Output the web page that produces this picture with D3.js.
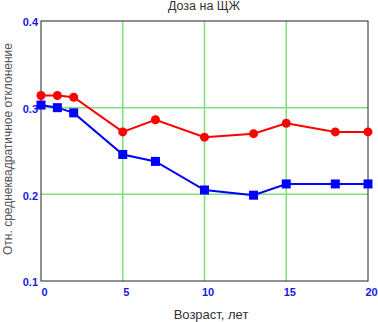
<!DOCTYPE html>
<head>
  <meta charset="utf-8">
  <script src="https://cdnjs.cloudflare.com/ajax/libs/d3/7.8.5/d3.min.js"></script>
  <style>
    body { margin:0; background:#fff; }
    svg { display:block; }
  </style>
</head>
<body>
  <div id="vis"></div>
  <script>
    var ages = [0, 1, 2, 5, 7, 10, 13, 15, 18, 20];
    var redValues = [0.314, 0.314, 0.312, 0.272, 0.286, 0.266, 0.270, 0.282, 0.272, 0.272];
    var blueValues = [0.303, 0.300, 0.294, 0.246, 0.238, 0.205, 0.199, 0.212, 0.212, 0.212];
    var xTicks = [0, 5, 10, 15, 20];
    var yTicks = [0.1, 0.2, 0.3, 0.4];
    var xGrid = [5, 10, 15];
    var yGrid = [0.2, 0.3];

    var width = 378, height = 322;
    var plotLeft = 41, plotRight = 368, plotTop = 21, plotBottom = 281;

    var svg = d3.select("#vis").append("svg")
      .attr("width", width)
      .attr("height", height);

    var x = d3.scaleLinear().domain([0, 20]).range([plotLeft, plotRight]);
    var y = d3.scaleLinear().domain([0.1, 0.4]).range([plotBottom, plotTop]);

    // grid
    svg.selectAll(".vg").data(xGrid).enter().append("line")
      .attr("x1", function(d) { return x(d); })
      .attr("x2", function(d) { return x(d); })
      .attr("y1", plotTop).attr("y2", plotBottom)
      .style("stroke", "#7de07d").style("stroke-width", 1.5);
    svg.selectAll(".hg").data(yGrid).enter().append("line")
      .attr("x1", plotLeft).attr("x2", plotRight)
      .attr("y1", function(d) { return y(d); })
      .attr("y2", function(d) { return y(d); })
      .style("stroke", "#7de07d").style("stroke-width", 1.5);

    // frame
    svg.append("rect")
      .attr("x", plotLeft).attr("y", plotTop)
      .attr("width", plotRight - plotLeft).attr("height", plotBottom - plotTop)
      .style("fill", "none").style("stroke", "#222").style("stroke-width", 1);

    // axes tick labels
    var xAxis = d3.axisBottom(x).tickValues(xTicks).tickSize(0).tickFormat(d3.format("d"));
    var gx = svg.append("g").attr("transform", "translate(0," + plotBottom + ")").call(xAxis);
    gx.select(".domain").remove();
    gx.selectAll("text")
      .attr("dx", 3).attr("y", 7)
      .style("fill", "#1a1adf").style("font", "bold 11px Arial, 'Liberation Sans', sans-serif");

    var yAxis = d3.axisLeft(y).tickValues(yTicks).tickSize(0).tickFormat(d3.format(".1f"));
    var gy = svg.append("g").attr("transform", "translate(" + plotLeft + ",0)").call(yAxis);
    gy.select(".domain").remove();
    gy.selectAll("text")
      .attr("x", -3).attr("dy", "0.45em")
      .style("fill", "#1a1adf").style("font", "bold 11px Arial, 'Liberation Sans', sans-serif");

    var line = d3.line()
      .x(function(d) { return x(d[0]); })
      .y(function(d) { return y(d[1]); });

    var red = d3.zip(ages, redValues);
    var blue = d3.zip(ages, blueValues);

    svg.append("path").datum(red).attr("d", line)
      .style("fill", "none").style("stroke", "#ff0000").style("stroke-width", 2);
    svg.selectAll(".rc").data(red).enter().append("circle")
      .attr("cx", function(d) { return x(d[0]); })
      .attr("cy", function(d) { return y(d[1]); })
      .attr("r", 4.5)
      .style("fill", "#ff0000");

    svg.append("path").datum(blue).attr("d", line)
      .style("fill", "none").style("stroke", "#0000ff").style("stroke-width", 2);
    svg.selectAll(".bs").data(blue).enter().append("rect")
      .attr("x", function(d) { return x(d[0]) - 4.5; })
      .attr("y", function(d) { return y(d[1]) - 4.5; })
      .attr("width", 9).attr("height", 9)
      .style("fill", "#0000ff");

    // titles
    svg.append("text")
      .attr("x", 204).attr("y", 10)
      .attr("text-anchor", "middle")
      .style("font", "12.5px Arial, 'Liberation Sans', sans-serif").style("fill", "#333")
      .text("Доза на ЩЖ");

    svg.append("text")
      .attr("x", 211).attr("y", 319)
      .attr("text-anchor", "middle")
      .style("font", "13px Arial, 'Liberation Sans', sans-serif").style("fill", "#333")
      .text("Возраст, лет");

    svg.append("text")
      .attr("transform", "translate(12,149) rotate(-90)")
      .attr("text-anchor", "middle")
      .style("font", "12px Arial, 'Liberation Sans', sans-serif").style("fill", "#555")
      .text("Отн. среднеквадратичное отклонение");
  </script>
</body>
